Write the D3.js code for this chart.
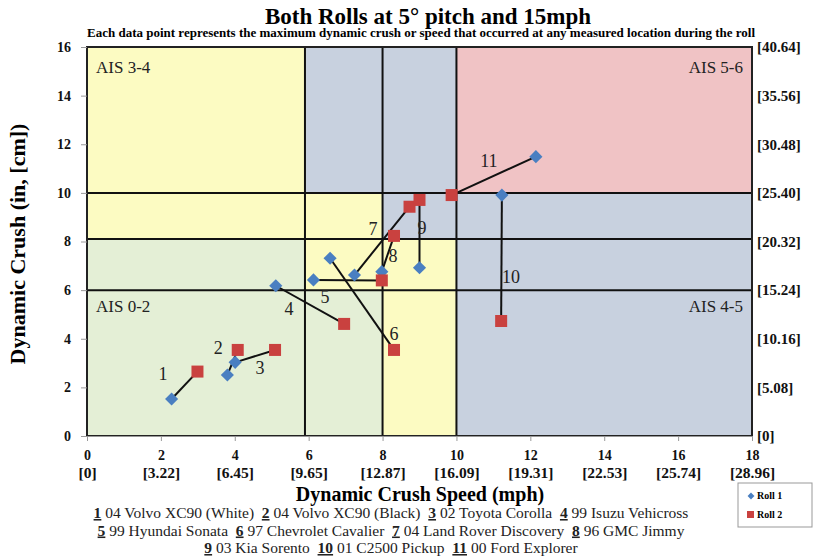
<!DOCTYPE html>
<html>
<head>
<meta charset="utf-8">
<script src="https://cdn.jsdelivr.net/npm/d3@7"></script>
<style>
  body { margin: 0; background: #fff; }
  text { font-family: "Liberation Serif", "Times New Roman", serif; }
</style>
</head>
<body>
<div class="viz"></div>
<script>
// vehicles / pair ids
const ids = ['1','2','3','4','5','6','7','8','9','10','11']
// roll 1 (blue diamonds) speed mph, crush in
const roll1Speed = [2.29, 3.80, 4.01, 5.11, 6.13, 6.58, 7.24, 7.98, 9.00, 11.23, 12.15]
const roll1Crush = [1.52, 2.51, 3.03, 6.18, 6.42, 7.31, 6.62, 6.76, 6.92, 9.91, 11.49]
// roll 2 (red squares)
const roll2Speed = [2.99, 4.08, 5.09, 6.96, 7.98, 8.31, 8.73, 8.31, 9.00, 11.21, 9.87]
const roll2Crush = [2.65, 3.54, 3.54, 4.61, 6.40, 3.54, 9.43, 8.23, 9.71, 4.73, 9.91]
// where the pair number sits (chart units)
const labelSpeed = [2.06, 3.55, 4.68, 5.47, 6.44, 8.31, 7.74, 8.28, 9.07, 11.48, 10.88]
const labelCrush = [2.55, 3.62, 2.80, 5.22, 5.72, 4.20, 8.52, 7.40, 8.56, 6.54, 11.31]

const xTicks = [0, 2, 4, 6, 8, 10, 12, 14, 16, 18]
const xCmLabels = ['[0]','[3.22]','[6.45]','[9.65]','[12.87]','[16.09]','[19.31]','[22.53]','[25.74]','[28.96]']
const yTicks = [0, 2, 4, 6, 8, 10, 12, 14, 16]
const yCmLabels = ['[0]','[5.08]','[10.16]','[15.24]','[20.32]','[25.40]','[30.48]','[35.56]','[40.64]']

// injury zones: speed from/to, crush from/to, zone
const zoneX0 = [0, 5.9, 8, 5.9, 0, 5.9, 5.9, 8, 10, 10]
const zoneX1 = [5.9, 8, 10, 10, 5.9, 8, 8, 10, 18, 18]
const zoneY0 = [0, 0, 0, 6, 8.1, 8.1, 10, 8.1, 10, 0]
const zoneY1 = [8.1, 6, 6, 8.1, 16, 10, 16, 16, 16, 10]
const zoneKind = ['g','g','y','y','y','y','b','b','p','b']
const boundSpeed = [5.9, 8, 10]
const boundCrush = [6, 8.1, 10]

const footLines = [
  [['1',' 04 Volvo XC90 (White)  '],['2',' 04 Volvo XC90 (Black)  '],['3',' 02 Toyota Corolla  '],['4',' 99 Isuzu Vehicross']],
  [['5',' 99 Hyundai Sonata  '],['6',' 97 Chevrolet Cavalier  '],['7',' 04 Land Rover Discovery  '],['8',' 96 GMC Jimmy']],
  [['9',' 03 Kia Sorento  '],['10',' 01 C2500 Pickup  '],['11',' 00 Ford Explorer']]
]

const width = 813, height = 556
const zoneColor = {g: '#e4efd6', y: '#fcfbc2', b: '#c8d1df', p: '#f0c3c5'}
const blue = '#4a7fc1', red = '#c9413f'

const svg = d3.select('.viz').append('svg')
  .attr('width', width).attr('height', height)

const x = d3.scaleLinear().domain([0, 18]).range([87, 752])
const y = d3.scaleLinear().domain([0, 16]).range([436, 47])

// titles
svg.append('text').attr('x', 428).attr('y', 24).attr('text-anchor', 'middle')
  .attr('font-size', 23).attr('font-weight', 'bold')
  .text('Both Rolls at 5° pitch and 15mph')
svg.append('text').attr('x', 421).attr('y', 37).attr('text-anchor', 'middle')
  .attr('font-size', 11.5).attr('font-weight', 'bold')
  .attr('textLength', 668).attr('lengthAdjust', 'spacingAndGlyphs')
  .text('Each data point represents the maximum dynamic crush or speed that occurred at any measured location during the roll')

// zones
const zones = zoneKind.map((k, i) => ({k, x0: zoneX0[i], x1: zoneX1[i], y0: zoneY0[i], y1: zoneY1[i]}))
svg.append('g').selectAll('rect').data(zones).join('rect')
  .attr('x', d => x(d.x0)).attr('y', d => y(d.y1))
  .attr('width', d => x(d.x1) - x(d.x0)).attr('height', d => y(d.y0) - y(d.y1))
  .attr('fill', d => zoneColor[d.k])

// boundaries
const lines = svg.append('g').attr('stroke', '#111').attr('stroke-width', 2)
lines.selectAll('.v').data(boundSpeed).join('line').attr('class', 'v')
  .attr('x1', d => x(d)).attr('x2', d => x(d)).attr('y1', y(16)).attr('y2', y(0))
lines.selectAll('.h').data(boundCrush).join('line').attr('class', 'h')
  .attr('x1', x(0)).attr('x2', x(18)).attr('y1', d => y(d)).attr('y2', d => y(d))

// frame
svg.append('rect').attr('x', x(0)).attr('y', y(16))
  .attr('width', x(18) - x(0)).attr('height', y(0) - y(16))
  .attr('fill', 'none').attr('stroke', '#222').attr('stroke-width', 2)

// axes
const axL = svg.append('g').attr('transform', `translate(${x(0)},0)`)
  .call(d3.axisLeft(y).tickValues(yTicks).tickSize(6).tickPadding(10))
axL.select('.domain').remove()
axL.selectAll('line').attr('stroke', '#999')
axL.selectAll('text').attr('font-size', 14).attr('font-weight', 'bold')
  .attr('font-family', '"Liberation Serif", serif').attr('fill', '#111')

const axR = svg.append('g').attr('transform', `translate(${x(18)},0)`)
  .call(d3.axisRight(y).tickValues(yTicks).tickSize(0).tickPadding(5)
    .tickFormat((d, i) => yCmLabels[i]))
axR.select('.domain').remove()
axR.selectAll('text').attr('font-size', 15).attr('font-weight', 'bold')
  .attr('font-family', '"Liberation Serif", serif').attr('fill', '#111')

const axB = svg.append('g').attr('transform', `translate(0,${y(0)})`)
  .call(d3.axisBottom(x).tickValues(xTicks).tickSize(5))
axB.select('.domain').attr('stroke', '#999')
axB.selectAll('line').attr('stroke', '#999')
axB.selectAll('text').attr('y', 14).attr('font-size', 14).attr('font-weight', 'bold')
  .attr('font-family', '"Liberation Serif", serif').attr('fill', '#111')
axB.selectAll('.tick').append('text')
  .attr('y', 42).attr('fill', '#111').attr('font-size', 15.5).attr('font-weight', 'bold')
  .attr('font-family', '"Liberation Serif", serif')
  .text((d, i) => xCmLabels[i])

svg.append('text').attr('x', 420).attr('y', 501).attr('text-anchor', 'middle')
  .attr('font-size', 20).attr('font-weight', 'bold').text('Dynamic Crush Speed (mph)')
svg.append('text').attr('transform', 'translate(25,244) rotate(-90)').attr('text-anchor', 'middle')
  .attr('font-size', 22).attr('font-weight', 'bold').text('Dynamic Crush (in, [cm])')

// zone names
const zoneNames = svg.append('g').attr('font-size', 17).attr('fill', '#222')
zoneNames.append('text').attr('x', x(0) + 9).attr('y', y(16) + 26).text('AIS 3-4')
zoneNames.append('text').attr('x', x(18) - 9).attr('y', y(16) + 26).attr('text-anchor', 'end').text('AIS 5-6')
zoneNames.append('text').attr('x', x(0) + 9).attr('y', y(6) + 22).text('AIS 0-2')
zoneNames.append('text').attr('x', x(18) - 9).attr('y', y(6) + 22).attr('text-anchor', 'end').text('AIS 4-5')

// pairs
const pairs = ids.map((id, i) => ({
  id, x1: roll1Speed[i], y1: roll1Crush[i], x2: roll2Speed[i], y2: roll2Crush[i],
  lx: labelSpeed[i], ly: labelCrush[i]
}))

svg.append('g').selectAll('line').data(pairs).join('line')
  .attr('x1', d => x(d.x1)).attr('y1', d => y(d.y1))
  .attr('x2', d => x(d.x2)).attr('y2', d => y(d.y2))
  .attr('stroke', '#111').attr('stroke-width', 2)

svg.append('g').selectAll('path').data(pairs).join('path')
  .attr('d', d3.symbol(d3.symbolDiamond2, 110))
  .attr('transform', d => `translate(${x(d.x1)},${y(d.y1)})`)
  .attr('fill', blue)

svg.append('g').selectAll('rect').data(pairs).join('rect')
  .attr('x', d => x(d.x2) - 6).attr('y', d => y(d.y2) - 6)
  .attr('width', 12).attr('height', 12).attr('fill', red)

svg.append('g').selectAll('text').data(pairs).join('text')
  .attr('x', d => x(d.lx)).attr('y', d => y(d.ly)).attr('dy', '0.35em')
  .attr('text-anchor', 'middle').attr('font-size', 18).attr('fill', '#222')
  .text(d => d.id)

// footnote
const foot = svg.append('g').attr('font-size', 15.5).attr('fill', '#222')
footLines.forEach((parts, li) => {
  const t = foot.append('text').attr('x', 391).attr('y', 518 + li * 17.5).attr('text-anchor', 'middle')
  parts.forEach(([n, s]) => {
    t.append('tspan').attr('font-weight', 'bold').attr('text-decoration', 'underline').text(n)
    t.append('tspan').style('white-space', 'pre').text(s)
  })
})

// legend
const leg = svg.append('g').attr('transform', 'translate(738,483)')
leg.append('rect').attr('width', 74).attr('height', 44).attr('fill', '#fff')
  .attr('stroke', '#999')
leg.append('path').attr('d', d3.symbol(d3.symbolDiamond2, 30))
  .attr('transform', 'translate(13,13)').attr('fill', blue)
leg.append('rect').attr('x', 9).attr('y', 28).attr('width', 7).attr('height', 7).attr('fill', red)
leg.append('text').attr('x', 19).attr('y', 16).attr('font-size', 10).attr('font-weight', 'bold').text('Roll 1')
leg.append('text').attr('x', 19).attr('y', 35).attr('font-size', 10).attr('font-weight', 'bold').text('Roll 2')
</script>
</body>
</html>
